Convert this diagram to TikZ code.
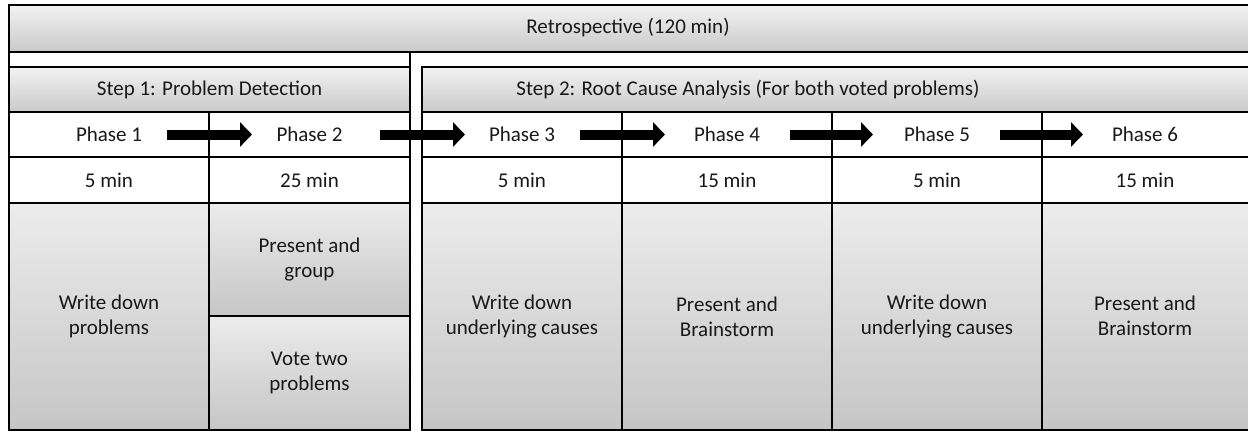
\documentclass[tikz,border=0pt]{standalone}
\usepackage{fontspec}
\setmainfont{Carlito}
\usetikzlibrary{arrows.meta}
\begin{document}
\begin{tikzpicture}[x=1pt,y=-1pt,
  txt/.style={font=\fontsize{21}{25}\selectfont, text=black!90, align=center},
  cell/.style={txt, draw=black, line width=1.6pt, anchor=north west, inner sep=0pt, outer sep=0pt},
  plain/.style={cell, fill=white},
  head/.style={cell, top color=gray!10, bottom color=gray!42},
  body/.style={cell, top color=gray!15, bottom color=gray!45},
  frame/.style={draw=black, line width=1.6pt, anchor=north west, inner sep=0pt, outer sep=0pt},
  barrow/.style={line width=10pt, draw=black, -{Triangle[length=12pt,width=24pt]}}
]
\useasboundingbox (0,0) rectangle (1248,431);
\clip (0,0) rectangle (1248,431);
\fill[white] (0,0) rectangle (1248,431);

% outer frame of step 1
\node[frame, minimum width=401pt, minimum height=378pt] (f1) at (9,52) {};

% top bar
\node[head, minimum width=1245pt, minimum height=47pt] (top) at (9,5) {};
\node[txt] (toplbl) at (628,28) {Retrospective (120 min)};

% step headers
\node[head, minimum width=401pt, minimum height=45pt] (s1) at (9,67) {Step 1: Problem Detection};
\node[head, minimum width=832pt, minimum height=45pt] (s2) at (422,67) {};
\node[txt] (s2lbl) at (748,89.5) {Step 2: Root Cause Analysis (For both voted problems)};

% phase row
\node[plain, minimum width=200pt, minimum height=45pt] (p1) at (9,112) {Phase 1};
\node[plain, minimum width=201pt, minimum height=45pt] (p2) at (209,112) {Phase 2};
\node[plain, minimum width=200pt, minimum height=45pt] (p3) at (422,112) {Phase 3};
\node[plain, minimum width=210pt, minimum height=45pt] (p4) at (622,112) {Phase 4};
\node[plain, minimum width=210pt, minimum height=45pt] (p5) at (832,112) {Phase 5};
\node[plain, minimum width=212pt, minimum height=45pt] (p6) at (1042,112) {};
\node[txt] (p6lbl) at (1145,134.5) {Phase 6};

% minutes row
\node[plain, minimum width=200pt, minimum height=46pt] (m1) at (9,157) {5 min};
\node[plain, minimum width=201pt, minimum height=46pt] (m2) at (209,157) {25 min};
\node[plain, minimum width=200pt, minimum height=46pt] (m3) at (422,157) {5 min};
\node[plain, minimum width=210pt, minimum height=46pt] (m4) at (622,157) {15 min};
\node[plain, minimum width=210pt, minimum height=46pt] (m5) at (832,157) {5 min};
\node[plain, minimum width=212pt, minimum height=46pt] (m6) at (1042,157) {};
\node[txt] (m6lbl) at (1145,180) {15 min};

% content row
\node[body, minimum width=200pt, minimum height=227pt] (c1) at (9,203) {Write down\\problems};
\node[body, minimum width=201pt, minimum height=113pt] (c2a) at (209,203) {Present and\\group};
\node[body, minimum width=201pt, minimum height=114pt] (c2b) at (209,316) {Vote two\\problems};
\node[body, minimum width=200pt, minimum height=227pt] (c3) at (422,203) {Write down\\underlying causes};
\node[body, minimum width=210pt, minimum height=227pt] (c4) at (622,203) {Present and\\Brainstorm};
\node[body, minimum width=210pt, minimum height=227pt] (c5) at (832,203) {Write down\\underlying causes};
\node[body, minimum width=212pt, minimum height=227pt] (c6) at (1042,203) {};
\node[txt] (c6lbl) at (1145,316) {Present and\\Brainstorm};

% arrows
\draw[barrow] ([xshift=-42pt]p1.east) -- ([xshift=43pt]p2.west);
\draw[barrow] ([xshift=-30pt]p2.east) -- ([xshift=43pt]p3.west);
\draw[barrow] ([xshift=-42pt]p3.east) -- ([xshift=43pt]p4.west);
\draw[barrow] ([xshift=-42pt]p4.east) -- ([xshift=41pt]p5.west);
\draw[barrow] ([xshift=-42pt]p5.east) -- ([xshift=41pt]p6.west);
\end{tikzpicture}
\end{document}
